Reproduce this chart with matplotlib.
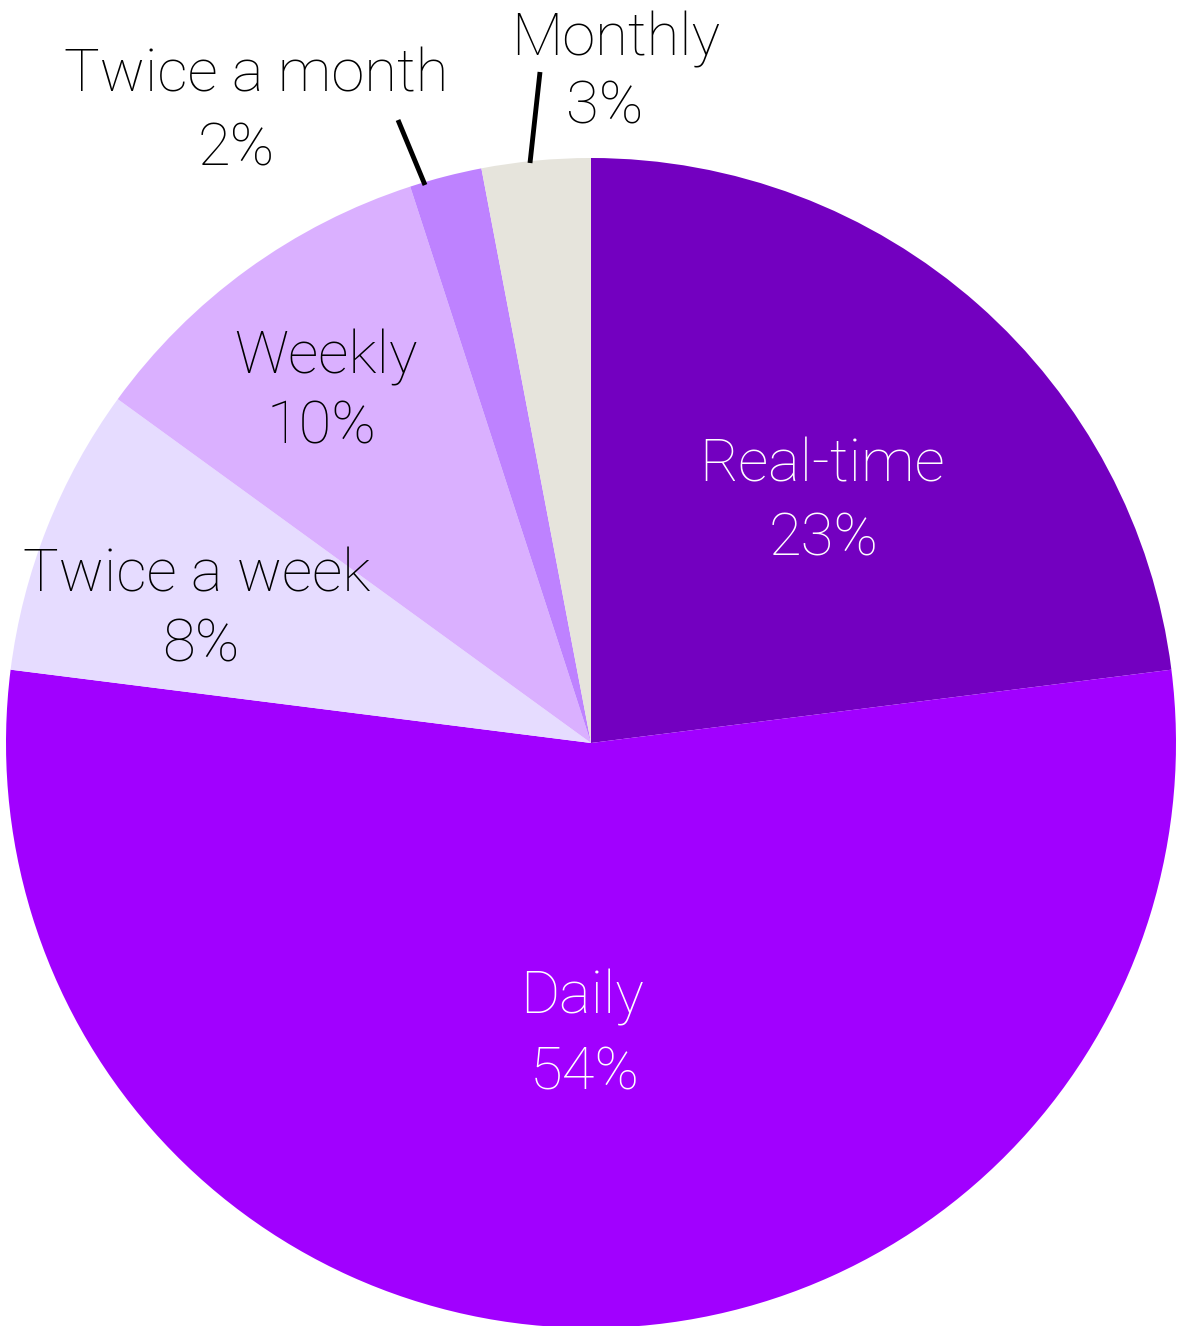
import matplotlib
matplotlib.use("Agg")
import matplotlib.pyplot as plt
import numpy as np

# Share of respondents by update frequency (clockwise from 12 o'clock)
categories = ["Real-time", "Daily", "Twice a week", "Weekly", "Twice a month", "Monthly"]
shares = [23, 54, 8, 10, 2, 3]
colors = ["#7300c0", "#a100ff", "#e6dcff", "#dab0ff", "#be82ff", "#e6e4dc"]
text_colors = ["white", "white", "black", "black", "black", "black"]

W, H = 1178, 1326
fig = plt.figure(figsize=(W / 100, H / 100), dpi=100)
ax = fig.add_axes([0, 0, 1, 1])

cx, cy, r = 591, H - 743, 585
wedges, _ = ax.pie(shares, colors=colors, startangle=90, counterclock=False,
                   center=(cx, cy), radius=r, frame=True,
                   wedgeprops=dict(linewidth=0))
ax.set_xlim(0, W)
ax.set_ylim(0, H)
ax.set_aspect("equal")
ax.axis("off")

font = dict(family=["Roboto", "DejaVu Sans"], fontweight="light", fontsize=43,
            ha="center", va="baseline")

# label baselines (pixel coords from top-left): name line, value line
name_pos = {
    "Real-time": (822, 481),
    "Daily": (582, 1014),
    "Twice a week": (197, 592),
    "Weekly": (326, 374),
    "Twice a month": (256, 91),
    "Monthly": (616, 56),
}
value_pos = {
    "Real-time": (824, 556),
    "Daily": (585, 1089),
    "Twice a week": (201, 662),
    "Weekly": (322, 443),
    "Twice a month": (236, 166),
    "Monthly": (605, 123),
}
for name, val, tc in zip(categories, shares, text_colors):
    x, y = name_pos[name]
    ax.text(x, H - y, name, color=tc, **font)
    x, y = value_pos[name]
    ax.text(x, H - y, f"{val}%", color=tc, **font)

# leader lines for the two thin slices
ax.plot([425, 398], [H - 185, H - 120], color="black", lw=3.5, solid_capstyle="butt")
ax.plot([530, 540], [H - 163, H - 72], color="black", lw=3.5, solid_capstyle="butt")

fig.savefig("out.png", dpi=100)
